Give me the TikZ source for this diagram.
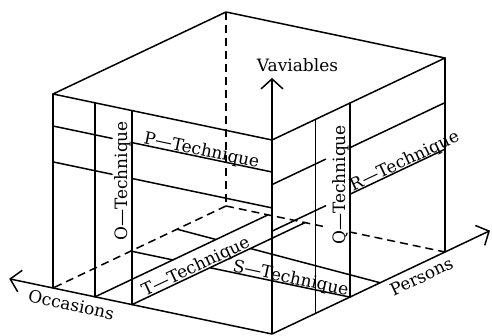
\documentclass[tikz,border=0pt]{standalone}
\usepackage{fontspec}
\newfontfamily\lblfont{DejaVu Serif}
\usetikzlibrary{arrows.meta}
\begin{document}
\begin{tikzpicture}[x=1pt,y=-1pt,
  edge/.style={line width=1.5pt, line cap=round, line join=round},
  hidden/.style={line width=1.5pt, dash pattern=on 8pt off 5pt},
  axisarrow/.style={line width=1.5pt, -{Straight Barb[length=10pt,width=22pt]}},
  lbl/.style={font=\lblfont\fontsize{17}{20}\selectfont, inner sep=0pt}]
\useasboundingbox (0,0) rectangle (492,336);
\begin{scope}[shift={(272pt,-334pt)}, x={(-219pt,46pt)}, y={(173pt,82pt)}, z={(0pt,194pt)}]
  \coordinate (FB) at (0,0,0);
  \coordinate (LB) at (1,0,0);
  \coordinate (RB) at (0,1,0);
  \coordinate (BB) at (1,1,0);
  \coordinate (FT) at (0,0,1);
  \coordinate (LT) at (1,0,1);
  \coordinate (RT) at (0,1,1);
  \coordinate (BT) at (1,1,1);
  \coordinate (OccTip) at (1.2,0,0);
  \coordinate (PerTip) at (0,1.26,0);
  \coordinate (VarTip) at (0,0,1.32);
  % O strip
  \coordinate (O1b) at (0.808,0,0); \coordinate (O1t) at (0.808,0,1);
  \coordinate (O2b) at (0.639,0,0); \coordinate (O2t) at (0.639,0,1);
  % P lines
  \coordinate (P1l) at (1,0,0.835); \coordinate (P1g) at (0.73,0,0.835);
  \coordinate (P1h) at (0.639,0,0.835); \coordinate (P1r) at (0,0,0.835);
  \coordinate (P2l) at (1,0,0.65); \coordinate (P2g) at (0.73,0,0.65);
  \coordinate (P2h) at (0.639,0,0.65); \coordinate (P2r) at (0,0,0.65);
  % Q strip
  \coordinate (Q1b) at (0,0.25,0); \coordinate (Q1t) at (0,0.25,1);
  \coordinate (Q2b) at (0,0.45,0); \coordinate (Q2t) at (0,0.45,1);
  % R lines
  \coordinate (RAf) at (0,0,0.77); \coordinate (RAg) at (0,0.31,0.77);
  \coordinate (RAh) at (0,0.45,0.77); \coordinate (RAr) at (0,1,0.77);
  \coordinate (RBf) at (0,0,0.53); \coordinate (RBg) at (0,0.31,0.53);
  \coordinate (RBh) at (0,0.45,0.53); \coordinate (RBr) at (0,1,0.53);
  % T lines
  \coordinate (T1e) at (0.808,1,0); \coordinate (T2e) at (0.639,1,0);
  % S lines
  \coordinate (S1x) at (0.639,0.45,0); \coordinate (S1y) at (0.808,0.45,0);
  \coordinate (S1e) at (1,0.45,0);
  \coordinate (S2f) at (0,0.625,0); \coordinate (S2x) at (0.639,0.684,0);
  \coordinate (S2y) at (0.808,0.699,0); \coordinate (S2e) at (1,0.717,0);
  % gap of hidden edge behind Q label
  \coordinate (Dg1) at (0.438,1,0); \coordinate (Dg2) at (0.557,1,0);
\end{scope}
% box
\draw[edge] (LT) -- (FT) -- (RT) -- (BT) -- cycle;
\draw[edge] (LT) -- (LB);
\draw[edge] (RT) -- (RB);
\draw[hidden] (BT) -- (BB);
\draw[hidden] (BB) -- (LB);
\draw[hidden] (BB) -- (Dg2);
\draw[hidden] (Dg1) -- (RB);
% axes
\draw[axisarrow] (FB) -- (OccTip);
\draw[axisarrow] (FB) -- (PerTip);
\draw[axisarrow] (FB) -- (VarTip);
% left face
\draw[edge] (O1b) -- (O1t);
\draw[edge] (O2b) -- (O2t);
\draw[edge] (P1l) -- (P1g) (P1h) -- (P1r);
\draw[edge] (P2l) -- (P2g) (P2h) -- (P2r);
% right face
\draw[edge] (Q1b) -- (Q1t);
\draw[edge] (Q2b) -- (Q2t);
\draw[edge] (RAf) -- (RAg) (RAh) -- (RAr);
\draw[edge] (RBf) -- (RBg) (RBh) -- (RBr);
% bottom face
\draw[edge] (O1b) -- (T1e);
\draw[edge] (O2b) -- (T2e);
\draw[edge] (Q2b) -- (S1x) (S1y) -- (S1e);
\draw[edge] (S2f) -- (S2x) (S2y) -- (S2e);
% labels
\node[lbl, anchor=base] (var) at (297.5,72) {Vaviables};
\node[lbl, anchor=base, rotate=90] (olab) at (127.5,181) {O—Technique};
\node[lbl, anchor=base, rotate=90] (qlab) at (345,185) {Q—Technique};
\node[lbl, anchor=base west, rotate=-11.86] (plab) at (143,143.5) {P—Technique};
\node[lbl, anchor=base west, rotate=25.36] (rlab) at (353,191.3) {R—Technique};
\node[lbl, anchor=base west, rotate=25.36] (tlab) at (145,296.5) {T—Technique};
\node[lbl, anchor=base west, rotate=-12] (slab) at (232,271) {S—Technique};
\node[lbl, anchor=base, rotate=-12] (occ) at (70,311) {Occasions};
\node[lbl, anchor=base, rotate=25.36] (per) at (424,282) {Persons};
\end{tikzpicture}
\end{document}
